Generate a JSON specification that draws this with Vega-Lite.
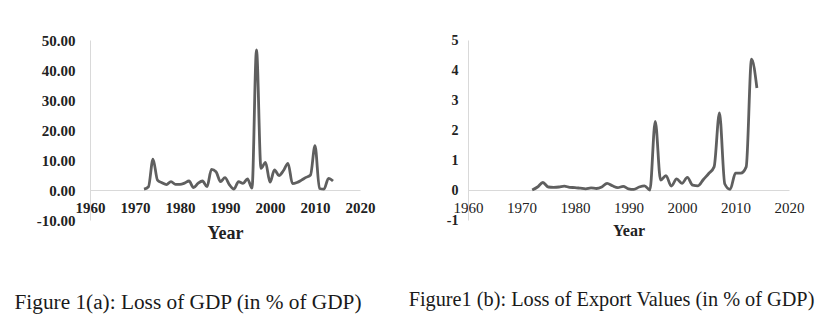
{
  "$schema": "https://vega.github.io/schema/vega-lite/v6.json",
  "background": "white",
  "padding": {"left": 14, "top": 33, "right": 5, "bottom": 5},
  "spacing": 33,
  "config": {
    "view": {"stroke": null},
    "font": "Liberation Serif",
    "title": {"font": "Liberation Serif", "fontWeight": "normal", "color": "#1a1a1a", "orient": "bottom", "anchor": "middle"},
    "axis": {"domainColor": "#d9d9d9", "domainWidth": 1, "ticks": false, "grid": false, "labelFlush": false, "labelOverlap": false, "labelFont": "Liberation Serif", "labelColor": "#222222", "titleFont": "Liberation Serif", "titleColor": "#222222"}
  },
  "datasets": {
    "gdp": [
      {"year": 1972, "value": 0.3}, {"year": 1973, "value": 1.1}, {"year": 1974, "value": 10.3}, {"year": 1975, "value": 3.3},
      {"year": 1976, "value": 2.4}, {"year": 1977, "value": 1.8}, {"year": 1978, "value": 2.8}, {"year": 1979, "value": 1.9},
      {"year": 1980, "value": 1.9}, {"year": 1981, "value": 2.3}, {"year": 1982, "value": 3.0}, {"year": 1983, "value": 0.8},
      {"year": 1984, "value": 2.2}, {"year": 1985, "value": 3.0}, {"year": 1986, "value": 1.1}, {"year": 1987, "value": 6.9},
      {"year": 1988, "value": 6.1}, {"year": 1989, "value": 2.8}, {"year": 1990, "value": 4.1}, {"year": 1991, "value": 1.7},
      {"year": 1992, "value": 0.3}, {"year": 1993, "value": 2.8}, {"year": 1994, "value": 2.2}, {"year": 1995, "value": 3.7},
      {"year": 1996, "value": 0.6}, {"year": 1997, "value": 46.7}, {"year": 1998, "value": 7.2}, {"year": 1999, "value": 9.2},
      {"year": 2000, "value": 2.6}, {"year": 2001, "value": 6.7}, {"year": 2002, "value": 4.8}, {"year": 2003, "value": 6.5},
      {"year": 2004, "value": 8.9}, {"year": 2005, "value": 2.1}, {"year": 2006, "value": 2.5}, {"year": 2007, "value": 3.3},
      {"year": 2008, "value": 4.2}, {"year": 2009, "value": 5.0}, {"year": 2010, "value": 14.8}, {"year": 2011, "value": 0.5},
      {"year": 2012, "value": 0.3}, {"year": 2013, "value": 3.9}, {"year": 2014, "value": 3.0}
    ],
    "exports": [
      {"year": 1972, "value": 0.0}, {"year": 1973, "value": 0.1}, {"year": 1974, "value": 0.25}, {"year": 1975, "value": 0.1},
      {"year": 1976, "value": 0.09}, {"year": 1977, "value": 0.1}, {"year": 1978, "value": 0.13}, {"year": 1979, "value": 0.09},
      {"year": 1980, "value": 0.08}, {"year": 1981, "value": 0.06}, {"year": 1982, "value": 0.04}, {"year": 1983, "value": 0.07},
      {"year": 1984, "value": 0.05}, {"year": 1985, "value": 0.1}, {"year": 1986, "value": 0.22}, {"year": 1987, "value": 0.14},
      {"year": 1988, "value": 0.08}, {"year": 1989, "value": 0.12}, {"year": 1990, "value": 0.04}, {"year": 1991, "value": 0.02},
      {"year": 1992, "value": 0.1}, {"year": 1993, "value": 0.14}, {"year": 1994, "value": 0.0}, {"year": 1995, "value": 2.29},
      {"year": 1996, "value": 0.33}, {"year": 1997, "value": 0.48}, {"year": 1998, "value": 0.13}, {"year": 1999, "value": 0.37},
      {"year": 2000, "value": 0.22}, {"year": 2001, "value": 0.42}, {"year": 2002, "value": 0.16}, {"year": 2003, "value": 0.14},
      {"year": 2004, "value": 0.35}, {"year": 2005, "value": 0.55}, {"year": 2006, "value": 0.77}, {"year": 2007, "value": 2.57},
      {"year": 2008, "value": 0.2}, {"year": 2009, "value": 0.02}, {"year": 2010, "value": 0.56}, {"year": 2011, "value": 0.56},
      {"year": 2012, "value": 0.77}, {"year": 2013, "value": 4.36}, {"year": 2014, "value": 3.4}
    ]
  },
  "hconcat": [
    {
      "width": 270,
      "height": 180,
      "title": {"text": "Figure 1(a): Loss of GDP (in % of GDP)", "dx": -37, "fontSize": 21.3, "offset": 50},
      "data": {"name": "gdp"},
      "mark": {"type": "line", "interpolate": "monotone", "color": "#5f5f5f", "strokeWidth": 2.8},
      "encoding": {
        "x": {"field": "year", "type": "quantitative", "scale": {"domain": [1960, 2020], "nice": false, "zero": false},
          "axis": {"values": [1960, 1970, 1980, 1990, 2000, 2010, 2020], "format": "d", "offset": -30, "labelFontSize": 15, "labelFontWeight": "bold", "labelPadding": 10, "title": "Year", "titleFontSize": 18, "titleFontWeight": "bold", "titlePadding": 9}},
        "y": {"field": "value", "type": "quantitative", "scale": {"domain": [-10, 50], "nice": false},
          "axis": {"values": [-10, 0, 10, 20, 30, 40, 50], "labelExpr": "replace(format(datum.value, '.2f'), '\u2212', '-')", "labelFontSize": 15, "labelFontWeight": "bold", "labelPadding": 15, "title": null}}
      }
    },
    {
      "width": 321,
      "height": 180,
      "title": {"text": "Figure1 (b): Loss of Export Values (in % of GDP)", "dx": -17, "fontSize": 20.3, "offset": 52},
      "data": {"name": "exports"},
      "mark": {"type": "line", "interpolate": "monotone", "color": "#5f5f5f", "strokeWidth": 2.8},
      "encoding": {
        "x": {"field": "year", "type": "quantitative", "scale": {"domain": [1960, 2020], "nice": false, "zero": false},
          "axis": {"values": [1960, 1970, 1980, 1990, 2000, 2010, 2020], "format": "d", "offset": -30, "labelFontSize": 15, "labelFontWeight": "normal", "labelPadding": 10, "title": "Year", "titleFontSize": 16, "titleFontWeight": "bold", "titlePadding": 7}},
        "y": {"field": "value", "type": "quantitative", "scale": {"domain": [-1, 5], "nice": false},
          "axis": {"values": [-1, 0, 1, 2, 3, 4, 5], "labelExpr": "replace(format(datum.value, 'd'), '\u2212', '-')", "labelFontSize": 14, "labelFontWeight": "bold", "labelPadding": 10, "title": null}}
      }
    }
  ]
}
